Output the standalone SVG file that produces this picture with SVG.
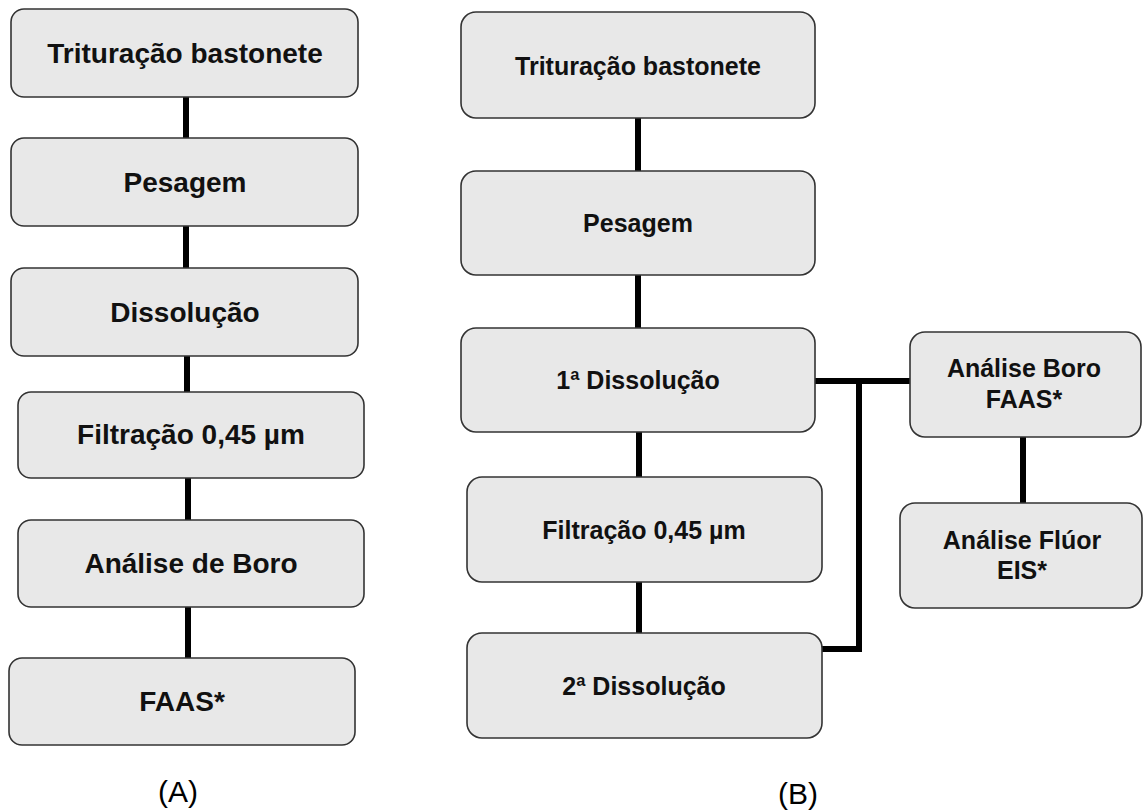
<svg xmlns="http://www.w3.org/2000/svg" width="1143" height="811" viewBox="0 0 1143 811">
<defs>
<style>
.box{fill:#e8e8e8;stroke:#333;stroke-width:1.6}
.ta{font-family:"Liberation Sans",Arial,sans-serif;font-weight:bold;font-size:28px;fill:#111;text-anchor:middle}
.tb{font-family:"Liberation Sans",Arial,sans-serif;font-weight:bold;font-size:25px;fill:#111;text-anchor:middle}
.lbl{font-family:"Liberation Sans",Arial,sans-serif;font-size:30px;fill:#000;text-anchor:middle}
.con{fill:none;stroke:#000;stroke-width:6;stroke-linejoin:miter;stroke-linecap:butt}
</style>
</defs>
<rect width="1143" height="811" fill="#fff"/>
<g id="connectors">
<line class="con" x1="186" y1="97" x2="186" y2="138"/>
<line class="con" x1="186" y1="226" x2="186" y2="268"/>
<line class="con" x1="187" y1="356" x2="187" y2="392"/>
<line class="con" x1="188" y1="478" x2="188" y2="520"/>
<line class="con" x1="188" y1="607" x2="188" y2="658"/>
<line class="con" x1="638" y1="118" x2="638" y2="171"/>
<line class="con" x1="638" y1="275" x2="638" y2="328"/>
<line class="con" x1="639" y1="432" x2="639" y2="477"/>
<line class="con" x1="639" y1="582" x2="639" y2="633"/>
<line class="con" x1="815" y1="381" x2="910" y2="381"/>
<polyline class="con" points="859,381 859,649 822,649"/>
<line class="con" x1="1023" y1="437" x2="1023" y2="503"/>
</g>
<g id="a1"><rect class="box" x="11" y="9" width="347" height="88" rx="13"/><text class="ta" x="185" y="63">Trituração bastonete</text></g>
<g id="a2"><rect class="box" x="11" y="138" width="347" height="88" rx="13"/><text class="ta" x="185" y="192">Pesagem</text></g>
<g id="a3"><rect class="box" x="11" y="268" width="347" height="88" rx="13"/><text class="ta" x="185" y="322">Dissolução</text></g>
<g id="a4"><rect class="box" x="18" y="392" width="346" height="86" rx="13"/><text class="ta" x="191" y="444">Filtração 0,45 µm</text></g>
<g id="a5"><rect class="box" x="18" y="520" width="346" height="87" rx="13"/><text class="ta" x="191" y="573">Análise de Boro</text></g>
<g id="a6"><rect class="box" x="9" y="658" width="346" height="87" rx="13"/><text class="ta" x="182" y="711">FAAS*</text></g>
<g id="b1"><rect class="box" x="461" y="12" width="354" height="106" rx="15"/><text class="tb" x="638" y="75">Trituração bastonete</text></g>
<g id="b2"><rect class="box" x="461" y="171" width="354" height="104" rx="15"/><text class="tb" x="638" y="232">Pesagem</text></g>
<g id="b3"><rect class="box" x="461" y="328" width="354" height="104" rx="15"/><text class="tb" x="638" y="389">1ª Dissolução</text></g>
<g id="b4"><rect class="box" x="467" y="477" width="355" height="105" rx="15"/><text class="tb" x="644" y="539">Filtração 0,45 µm</text></g>
<g id="b5"><rect class="box" x="467" y="633" width="355" height="105" rx="15"/><text class="tb" x="644" y="695">2ª Dissolução</text></g>
<g id="b6"><rect class="box" x="910" y="332" width="231" height="105" rx="15"/><text class="tb" x="1024" y="377">Análise Boro</text><text class="tb" x="1024" y="408">FAAS*</text></g>
<g id="b7"><rect class="box" x="900" y="503" width="242" height="105" rx="15"/><text class="tb" x="1022" y="549">Análise Flúor</text><text class="tb" x="1022" y="579">EIS*</text></g>
<text class="lbl" x="178" y="802">(A)</text>
<text class="lbl" x="798" y="804">(B)</text>
</svg>
